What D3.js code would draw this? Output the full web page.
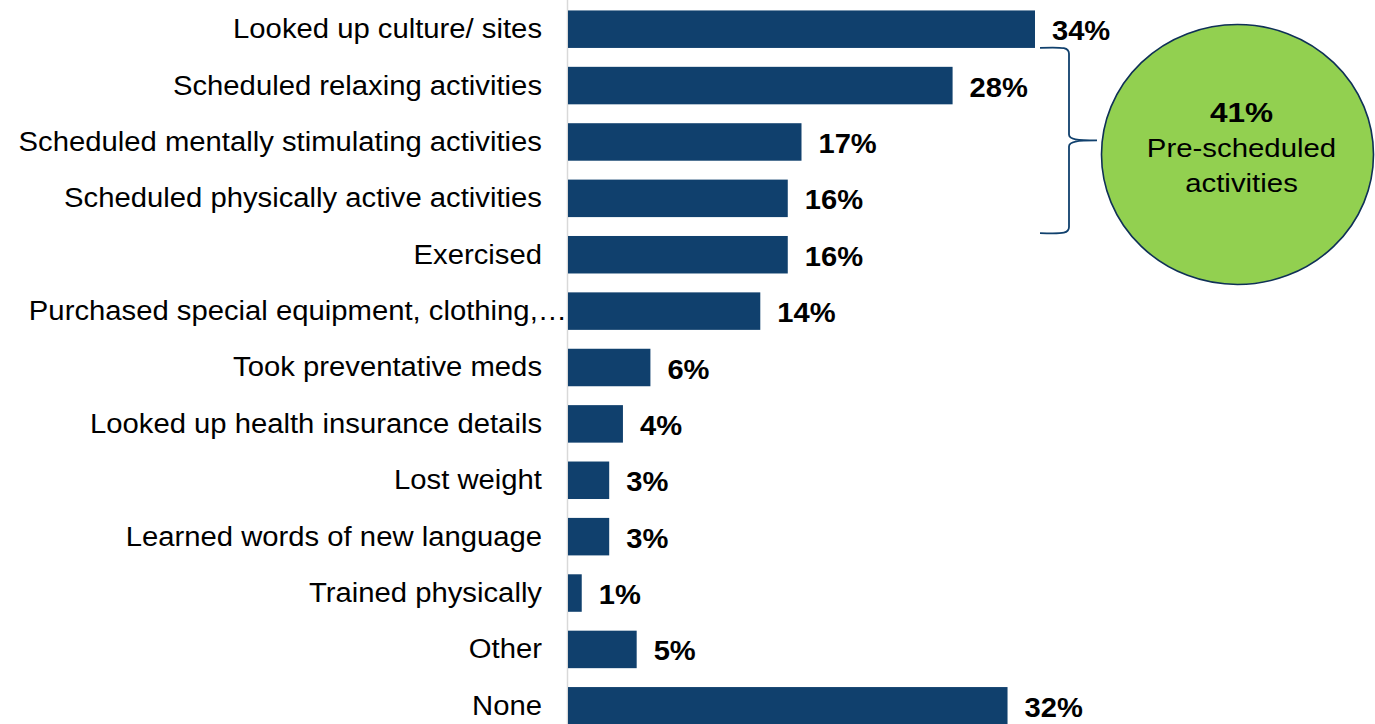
<!DOCTYPE html>
<html>
<head>
<meta charset="utf-8">
<script src="https://cdn.jsdelivr.net/npm/d3@7"></script>
<style>
  html, body { margin: 0; padding: 0; background: #fff; }
  svg { display: block; }
</style>
</head>
<body>
<svg id="chart" width="1375" height="724"></svg>
<script>
// Share of travellers who did each activity before their trip (%)
const categories = [
  "Looked up culture/ sites",
  "Scheduled relaxing activities",
  "Scheduled mentally stimulating activities",
  "Scheduled physically active activities",
  "Exercised",
  "Purchased special equipment, clothing,\u2026",
  "Took preventative meds",
  "Looked up health insurance details",
  "Lost weight",
  "Learned words of new language",
  "Trained physically",
  "Other",
  "None"
];
const values = [34, 28, 17, 16, 16, 14, 6, 4, 3, 3, 1, 5, 32];

// Callout for the grouped "scheduled" items (rows 2–4)
const groupRows = ["Scheduled relaxing activities", "Scheduled physically active activities"];
const groupValue = 41;
const groupLabel = ["Pre-scheduled", "activities"];

const W = 1375, H = 724;
const BAR = "#10406d";
const FONT = "'Liberation Sans', Arial, Helvetica, sans-serif";

const svg = d3.select("#chart");

const y = d3.scaleBand()
  .domain(categories)
  .range([1, 734])
  .paddingInner(0.335)
  .paddingOuter(0.1675);

const x = d3.scaleLinear()
  .domain([0, 34])
  .range([568, 1035]);

// baseline axis
svg.append("line")
  .attr("x1", 567.5).attr("x2", 567.5)
  .attr("y1", 0).attr("y2", H)
  .attr("stroke", "#d9d9d9").attr("stroke-width", 1.5);

// bars
svg.append("g").selectAll("rect")
  .data(values)
  .join("rect")
  .attr("x", x(0))
  .attr("y", (d, i) => y(categories[i]))
  .attr("width", d => x(d) - x(0))
  .attr("height", y.bandwidth())
  .attr("fill", BAR);

// category labels (slightly widened type); truncated labels run up to the axis
const catScale = 1.045;
const yAxis = d3.axisLeft(y).tickSize(0).tickPadding(26);
const ga = svg.append("g")
  .attr("transform", `translate(${x(0)},0)`)
  .call(yAxis);
ga.select(".domain").remove();
ga.selectAll("text")
  .attr("font-family", FONT)
  .attr("font-size", 28)
  .attr("fill", "#000")
  .attr("x", d => (d.endsWith("\u2026") ? -1 : -26) / catScale)
  .attr("y", 0)
  .attr("transform", `scale(${catScale},1)`);

// value labels
const valScale = 1.04;
svg.append("g").selectAll("text")
  .data(values)
  .join("text")
  .attr("transform", (d, i) =>
    `translate(${x(d) + 17},${y(categories[i]) + y.bandwidth() / 2 + 1}) scale(${valScale},1)`)
  .attr("dy", "0.357em")
  .attr("font-family", FONT)
  .attr("font-size", 28)
  .attr("font-weight", "bold")
  .attr("fill", "#000")
  .text(d => d + "%");

// curly brace spanning the scheduled rows
const braceTop = y(groupRows[0]) - 19;
const braceBot = y(groupRows[1]) + y.bandwidth() + 16;
const braceMid = (braceTop + braceBot) / 2;
const bx0 = x(34) + 5, bx1 = bx0 + 29, bx2 = bx0 + 57;
const brace = d3.path();
brace.moveTo(bx0, braceTop);
brace.bezierCurveTo(bx1 - 4, braceTop - 1, bx1, braceTop, bx1, braceTop + 6);
brace.lineTo(bx1, braceMid - 6);
brace.bezierCurveTo(bx1, braceMid - 1, bx1 + 8, braceMid, bx2, braceMid);
brace.moveTo(bx2, braceMid);
brace.bezierCurveTo(bx1 + 8, braceMid, bx1, braceMid + 1, bx1, braceMid + 6);
brace.lineTo(bx1, braceBot - 6);
brace.bezierCurveTo(bx1, braceBot, bx1 - 4, braceBot + 1, bx0, braceBot);
svg.append("path")
  .attr("d", brace.toString())
  .attr("fill", "none")
  .attr("stroke", BAR)
  .attr("stroke-width", 1.8);

// green callout bubble
const cx = 1237.5, cy = 154.5;
svg.append("ellipse")
  .attr("cx", cx).attr("cy", cy)
  .attr("rx", 136).attr("ry", 130)
  .attr("fill", "#92d050")
  .attr("stroke", "#0f3057")
  .attr("stroke-width", 1.6);

const tx = 1241.5;
svg.append("text")
  .attr("transform", `translate(${tx},121.7) scale(1.17,1)`)
  .attr("text-anchor", "middle")
  .attr("font-family", FONT)
  .attr("font-size", 27)
  .attr("font-weight", "bold")
  .attr("fill", "#000")
  .text(groupValue + "%");

svg.append("g").selectAll("text")
  .data(groupLabel)
  .join("text")
  .attr("transform", (d, i) => `translate(${tx},${157 + i * 35}) scale(1.13,1)`)
  .attr("text-anchor", "middle")
  .attr("font-family", FONT)
  .attr("font-size", 26)
  .attr("fill", "#000")
  .text(d => d);
</script>
</body>
</html>
